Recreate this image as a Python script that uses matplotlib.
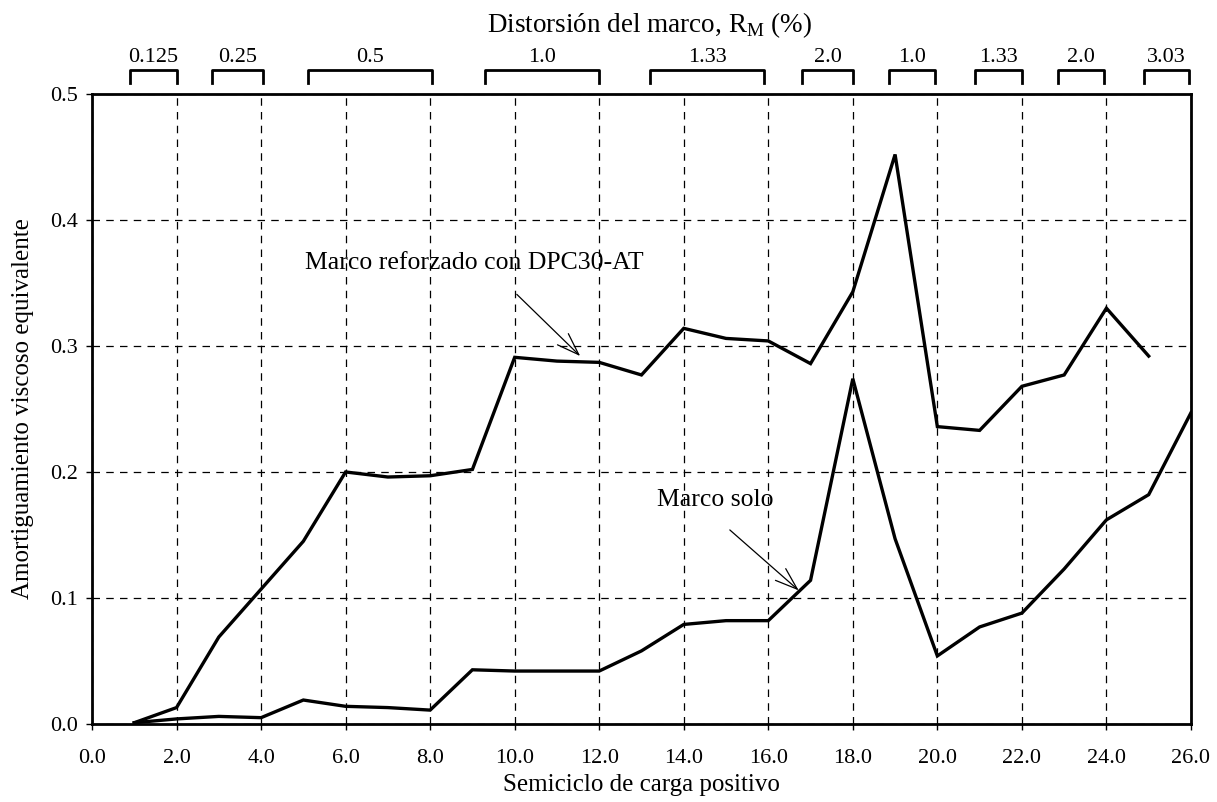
import numpy as np
import matplotlib
matplotlib.use('Agg')
import matplotlib.pyplot as plt

# semiciclo de carga positivo
ciclo_ref = np.arange(1, 26)
ciclo_solo = np.arange(1, 27)

# amortiguamiento viscoso equivalente, marco reforzado con DPC30-AT
amort_ref = [0.001, 0.013, 0.069, 0.107, 0.145, 0.200, 0.196, 0.197, 0.202, 0.291,
             0.288, 0.287, 0.277, 0.314, 0.306, 0.304, 0.286, 0.343, 0.452, 0.236,
             0.233, 0.268, 0.277, 0.330, 0.292]

# marco solo
amort_solo = [0.001, 0.004, 0.006, 0.005, 0.019, 0.014, 0.013, 0.011, 0.043, 0.042,
              0.042, 0.042, 0.058, 0.079, 0.082, 0.082, 0.114, 0.274, 0.147, 0.054,
              0.077, 0.088, 0.123, 0.162, 0.182, 0.247]

# distorsion del marco por grupo de semiciclos
grupo_ini = [0.9, 2.85, 5.1, 9.3, 13.2, 16.8, 18.85, 20.9, 22.85, 24.9]
grupo_fin = [2.0, 4.05, 8.05, 12.0, 15.9, 18.0, 19.95, 22.0, 23.95, 25.95]
grupo_txt = ['0.125', '0.25', '0.5', '1.0', '1.33', '2.0', '1.0', '1.33', '2.0', '3.03']

plt.rcParams['font.family'] = ['Liberation Serif', 'DejaVu Serif']
plt.rcParams['mathtext.fontset'] = 'custom'
plt.rcParams['mathtext.rm'] = 'Liberation Serif'
plt.rcParams['font.size'] = 16

fig = plt.figure(figsize=(12.17, 8.02), dpi=100)
ax = fig.add_axes([0.0756, 0.0973, 0.9030, 0.7855])

ax.plot(ciclo_ref, amort_ref, color='black', lw=2.4, solid_joinstyle='miter')
ax.plot(ciclo_solo, amort_solo, color='black', lw=2.4, solid_joinstyle='miter')

ax.set_xlim(0, 26)
ax.set_ylim(0, 0.5)
ax.set_xticks(np.arange(0, 27, 2))
ax.set_yticks(np.arange(0, 0.51, 0.1))
ax.xaxis.set_major_formatter(plt.FormatStrFormatter('%.1f'))
ax.yaxis.set_major_formatter(plt.FormatStrFormatter('%.1f'))
ax.tick_params(direction='out', length=4, width=1, labelsize=16)
ax.tick_params(axis='x', pad=14)
ax.tick_params(axis='y', pad=6)
ax.grid(True, color='black', linestyle=(0, (6, 5)), linewidth=0.9)
for s in ax.spines.values():
    s.set_linewidth(2)

ax.set_xlabel('Semiciclo de carga positivo', fontsize=18, labelpad=4)
ax.set_ylabel('Amortiguamiento viscoso equivalente', fontsize=18, labelpad=12)

# corchetes superiores
tr = ax.get_xaxis_transform()
for a, b, t in zip(grupo_ini, grupo_fin, grupo_txt):
    ax.plot([a, a, b, b], [1.018, 1.038, 1.038, 1.018], color='black', lw=2,
            transform=tr, clip_on=False)
    ax.text((a + b) / 2, 1.043, t, transform=tr, ha='center', va='bottom', fontsize=16)
ax.text(13.2, 1.11, 'Distorsión del marco, R$_{\\mathrm{M}}$ (%)', transform=tr,
        ha='center', va='center', fontsize=19.5)

# anotaciones
ax.text(9.04, 0.366, 'Marco reforzado con DPC30-AT', ha='center', va='center', fontsize=18.5)
ax.annotate('', xy=(11.55, 0.292), xytext=(10.05, 0.341),
            arrowprops=dict(arrowstyle='->,head_length=1.0,head_width=0.35', lw=0.9, color='black',
                            shrinkA=0, shrinkB=0))
ax.text(14.74, 0.178, 'Marco solo', ha='center', va='center', fontsize=18.5)
ax.annotate('', xy=(16.72, 0.106), xytext=(15.09, 0.154),
            arrowprops=dict(arrowstyle='->,head_length=1.0,head_width=0.35', lw=0.9, color='black',
                            shrinkA=0, shrinkB=0))

plt.savefig('out.png', dpi=100)
